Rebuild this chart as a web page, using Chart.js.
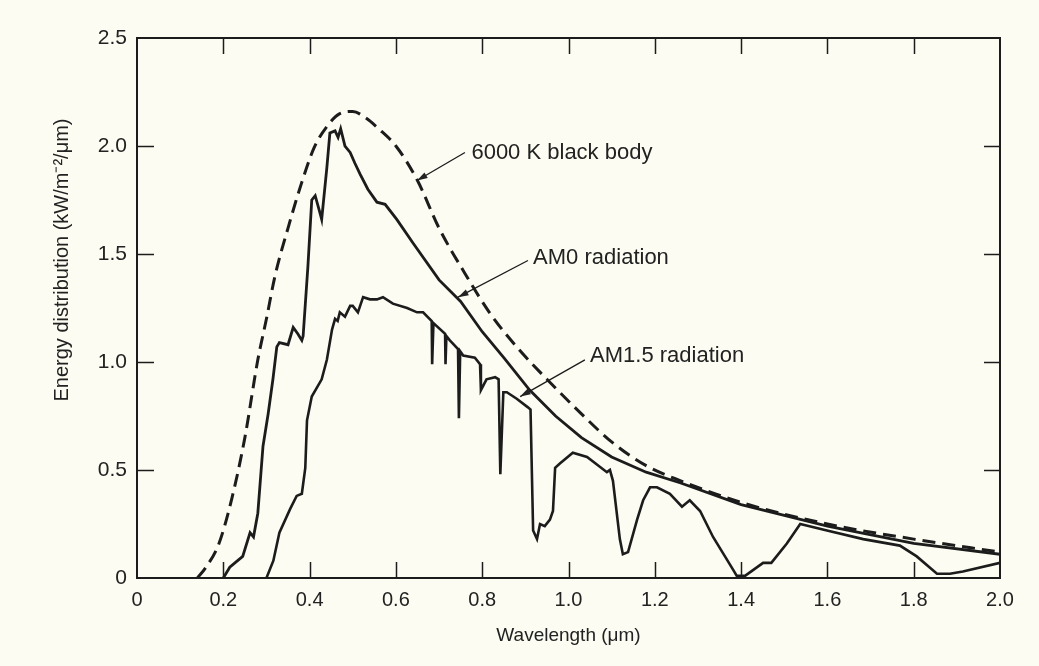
<!DOCTYPE html>
<html>
<head>
<meta charset="utf-8">
<script src="https://cdn.jsdelivr.net/npm/chart.js@4.4.1/dist/chart.umd.min.js"></script>
<style>
  html, body { margin: 0; padding: 0; background: #fcfcf2; }
  #wrap { width: 1039px; height: 666px; }
</style>
</head>
<body>
<div id="wrap"><canvas id="grafico"></canvas></div>
<script>
// 6000 K black body (dashed)
const bbWavelength = [0.14, 0.16, 0.19, 0.22, 0.25, 0.28, 0.30, 0.32, 0.35, 0.38, 0.41, 0.44, 0.47, 0.50, 0.53, 0.56, 0.60, 0.65, 0.70, 0.76, 0.82, 0.88, 0.95, 1.03, 1.10, 1.18, 1.26, 1.40, 1.60, 1.80, 2.00];
const bbEnergy     = [0.00, 0.05, 0.16, 0.37, 0.65, 1.01, 1.20, 1.40, 1.62, 1.82, 1.99, 2.09, 2.15, 2.16, 2.13, 2.08, 2.00, 1.84, 1.62, 1.41, 1.22, 1.07, 0.92, 0.76, 0.63, 0.52, 0.45, 0.35, 0.25, 0.18, 0.12];

// AM0 radiation
const am0Wavelength = [0.20, 0.215, 0.245, 0.262, 0.27, 0.28, 0.292, 0.304, 0.315, 0.324, 0.33, 0.35, 0.362, 0.373, 0.382, 0.385, 0.396, 0.405, 0.413, 0.424, 0.428, 0.44, 0.447, 0.459, 0.466, 0.472, 0.482, 0.494, 0.505, 0.517, 0.535, 0.556, 0.575, 0.602, 0.64, 0.70, 0.75, 0.80, 0.85, 0.91, 0.97, 1.03, 1.10, 1.18, 1.26, 1.40, 1.60, 1.80, 2.00];
const am0Energy     = [0.00, 0.05, 0.10, 0.21, 0.19, 0.30, 0.61, 0.76, 0.92, 1.07, 1.09, 1.08, 1.16, 1.13, 1.10, 1.12, 1.44, 1.75, 1.77, 1.69, 1.66, 1.90, 2.06, 2.07, 2.04, 2.08, 2.00, 1.97, 1.92, 1.87, 1.80, 1.74, 1.73, 1.66, 1.55, 1.38, 1.28, 1.14, 1.02, 0.87, 0.75, 0.65, 0.56, 0.49, 0.44, 0.34, 0.24, 0.16, 0.11];

// AM1.5 radiation
const am15Wavelength = [0.30, 0.316, 0.33, 0.355, 0.37, 0.382, 0.39, 0.394, 0.405, 0.428, 0.44, 0.452, 0.459, 0.465, 0.47, 0.482, 0.494, 0.50, 0.512, 0.524, 0.54, 0.556, 0.57, 0.593, 0.626, 0.649, 0.663, 0.683, 0.684, 0.687, 0.714, 0.715, 0.717, 0.725, 0.744, 0.746, 0.749, 0.756, 0.783, 0.795, 0.797, 0.81, 0.83, 0.838, 0.842, 0.849, 0.857, 0.88, 0.906, 0.912, 0.918, 0.927, 0.934, 0.945, 0.957, 0.964, 0.969, 0.98, 1.01, 1.043, 1.089, 1.096, 1.103, 1.119, 1.126, 1.138, 1.159, 1.173, 1.189, 1.205, 1.235, 1.263, 1.281, 1.305, 1.335, 1.381, 1.39, 1.409, 1.451, 1.47, 1.506, 1.537, 1.599, 1.683, 1.768, 1.807, 1.854, 1.884, 1.914, 2.00];
const am15Energy     = [0.00, 0.08, 0.21, 0.32, 0.38, 0.39, 0.51, 0.73, 0.84, 0.92, 1.01, 1.15, 1.20, 1.19, 1.23, 1.21, 1.26, 1.26, 1.23, 1.30, 1.29, 1.29, 1.30, 1.27, 1.25, 1.23, 1.23, 1.19, 0.99, 1.18, 1.13, 0.99, 1.12, 1.10, 1.06, 0.74, 1.05, 1.03, 1.02, 0.99, 0.87, 0.92, 0.93, 0.92, 0.48, 0.86, 0.86, 0.83, 0.79, 0.78, 0.22, 0.18, 0.25, 0.24, 0.27, 0.31, 0.51, 0.53, 0.58, 0.56, 0.49, 0.50, 0.45, 0.18, 0.11, 0.12, 0.27, 0.36, 0.42, 0.42, 0.39, 0.33, 0.36, 0.31, 0.19, 0.04, 0.01, 0.01, 0.07, 0.07, 0.16, 0.25, 0.22, 0.18, 0.15, 0.10, 0.02, 0.02, 0.03, 0.07];

const xTicks = [0, 0.2, 0.4, 0.6, 0.8, 1.0, 1.2, 1.4, 1.6, 1.8, 2.0];
const yTicks = [0, 0.5, 1.0, 1.5, 2.0, 2.5];

const tinta = '#1c1c1c';
const fondo = '#fcfcf2';
const fuente = "'Liberation Sans', Arial, sans-serif";

// labels with arrows, in data coordinates
const notas = [
  { texto: '6000 K black body', tx: 0.775, ty: 1.97, desde: [0.76, 1.97], hasta: [0.649, 1.84] },
  { texto: 'AM0 radiation', tx: 0.918, ty: 1.48, desde: [0.906, 1.47], hasta: [0.744, 1.30] },
  { texto: 'AM1.5 radiation', tx: 1.05, ty: 1.03, desde: [1.038, 1.01], hasta: [0.888, 0.84] },
];

const zip = (xs, ys) => xs.map((x, i) => ({ x: x, y: ys[i] }));

const marco = {
  id: 'marco',
  beforeDraw(chart) {
    const ctx = chart.ctx;
    ctx.save();
    ctx.fillStyle = fondo;
    ctx.fillRect(0, 0, chart.width, chart.height);
    ctx.restore();
  },
  afterDraw(chart) {
    const { ctx, chartArea: a, scales } = chart;
    const sx = scales.x, sy = scales.y;
    ctx.save();
    ctx.strokeStyle = tinta;
    ctx.lineWidth = 1.5;
    ctx.beginPath();
    xTicks.slice(1, -1).forEach(v => {
      const px = Math.round(sx.getPixelForValue(v)) + 0.5;
      ctx.moveTo(px, a.bottom); ctx.lineTo(px, a.bottom - 16);
      ctx.moveTo(px, a.top); ctx.lineTo(px, a.top + 16);
    });
    yTicks.slice(1, -1).forEach(v => {
      const py = Math.round(sy.getPixelForValue(v)) + 0.5;
      ctx.moveTo(a.left, py); ctx.lineTo(a.left + 17, py);
      ctx.moveTo(a.right, py); ctx.lineTo(a.right - 16, py);
    });
    ctx.stroke();

    // annotations
    ctx.lineWidth = 1.3;
    ctx.fillStyle = '#222';
    notas.forEach(n => {
      const x0 = sx.getPixelForValue(n.desde[0]), y0 = sy.getPixelForValue(n.desde[1]);
      const x1 = sx.getPixelForValue(n.hasta[0]), y1 = sy.getPixelForValue(n.hasta[1]);
      const ang = Math.atan2(y1 - y0, x1 - x0);
      ctx.beginPath();
      ctx.moveTo(x0, y0); ctx.lineTo(x1, y1);
      ctx.stroke();
      ctx.beginPath();
      ctx.moveTo(x1, y1);
      ctx.lineTo(x1 - 11 * Math.cos(ang - 0.3), y1 - 11 * Math.sin(ang - 0.3));
      ctx.lineTo(x1 - 11 * Math.cos(ang + 0.3), y1 - 11 * Math.sin(ang + 0.3));
      ctx.closePath();
      ctx.fill();
      ctx.font = '22px ' + fuente;
      ctx.textAlign = 'left';
      ctx.textBaseline = 'middle';
      ctx.fillText(n.texto, sx.getPixelForValue(n.tx), sy.getPixelForValue(n.ty));
    });

    // y axis title
    ctx.translate(62, 260);
    ctx.rotate(-Math.PI / 2);
    ctx.font = '20px ' + fuente;
    ctx.textAlign = 'center';
    ctx.textBaseline = 'middle';
    ctx.fillText('Energy distribution (kW/m\u207B\u00B2/\u03BCm)', 0, 0);
    ctx.restore();
  }
};

const ctx = document.getElementById('grafico').getContext('2d');

new Chart(ctx, {
  type: 'line',
  data: {
    datasets: [
      {
        label: '6000 K black body',
        data: zip(bbWavelength, bbEnergy),
        borderColor: tinta,
        borderWidth: 3,
        borderDash: [13, 7],
        cubicInterpolationMode: 'monotone',
        pointRadius: 0,
        fill: false,
      },
      {
        label: 'AM0 radiation',
        data: zip(am0Wavelength, am0Energy),
        borderColor: tinta,
        borderWidth: 2.8,
        tension: 0,
        pointRadius: 0,
        fill: false,
      },
      {
        label: 'AM1.5 radiation',
        data: zip(am15Wavelength, am15Energy),
        borderColor: tinta,
        borderWidth: 2.6,
        tension: 0,
        pointRadius: 0,
        fill: false,
      },
    ],
  },
  options: {
    responsive: true,
    maintainAspectRatio: false,
    animation: false,
    layout: { padding: 0 },
    plugins: {
      legend: { display: false },
      tooltip: { enabled: false },
    },
    scales: {
      x: {
        type: 'linear',
        position: 'bottom',
        min: 0,
        max: 2,
        afterBuildTicks: (s) => { s.ticks = xTicks.map(v => ({ value: v })); },
        afterFit: (s) => { s.height = 88; },
        grid: { display: false, drawTicks: false },
        border: { display: true, color: tinta, width: 2 },
        ticks: {
          padding: 10,
          color: '#222',
          font: { family: fuente, size: 20 },
          callback: (v) => (v === 0 ? '0' : Number(v).toFixed(1)),
        },
        title: {
          display: true,
          text: 'Wavelength (\u03BCm)',
          color: '#222',
          font: { family: fuente, size: 19 },
          padding: { top: 0, bottom: 19 },
        },
      },
      x2: {
        type: 'linear',
        position: 'top',
        min: 0,
        max: 2,
        afterFit: (s) => { s.height = 38; },
        grid: { display: false, drawTicks: false },
        border: { display: true, color: tinta, width: 2 },
        ticks: { display: false },
      },
      y: {
        type: 'linear',
        position: 'left',
        min: 0,
        max: 2.5,
        afterBuildTicks: (s) => { s.ticks = yTicks.map(v => ({ value: v })); },
        afterFit: (s) => { s.width = 137; },
        grid: { display: false, drawTicks: false },
        border: { display: true, color: tinta, width: 2 },
        ticks: {
          padding: 10,
          color: '#222',
          font: { family: fuente, size: 21 },
          callback: (v) => (v === 0 ? '0' : Number(v).toFixed(1)),
        },
      },
      y2: {
        type: 'linear',
        position: 'right',
        min: 0,
        max: 2.5,
        afterFit: (s) => { s.width = 39; },
        grid: { display: false, drawTicks: false },
        border: { display: true, color: tinta, width: 2 },
        ticks: { display: false },
      },
    },
  },
  plugins: [marco],
});
</script>
</body>
</html>
